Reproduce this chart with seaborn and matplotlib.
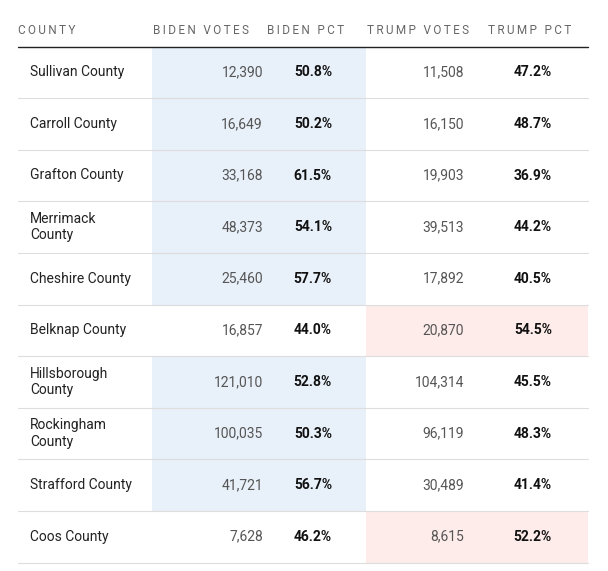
import matplotlib
matplotlib.use("Agg")
import matplotlib.pyplot as plt
import seaborn as sns

sns.set_theme(style="white")
plt.rcParams['font.family'] = ['Roboto', 'DejaVu Sans']

counties = ["Sullivan County", "Carroll County", "Grafton County", "Merrimack\nCounty",
            "Cheshire County", "Belknap County", "Hillsborough\nCounty", "Rockingham\nCounty",
            "Strafford County", "Coos County"]
biden_votes = [12390, 16649, 33168, 48373, 25460, 16857, 121010, 100035, 41721, 7628]
biden_pct = [50.8, 50.2, 61.5, 54.1, 57.7, 44.0, 52.8, 50.3, 56.7, 46.2]
trump_votes = [11508, 16150, 19903, 39513, 17892, 20870, 104314, 96119, 30489, 8615]
trump_pct = [47.2, 48.7, 36.9, 44.2, 40.5, 54.5, 45.5, 48.3, 41.4, 52.2]
headers = ["COUNTY", "BIDEN VOTES", "BIDEN PCT", "TRUMP VOTES", "TRUMP PCT"]

fig = plt.figure(figsize=(6.08, 5.71), dpi=100)
ax = fig.add_axes([0, 0, 1, 1])
ax.set_xlim(0, 608)
ax.set_ylim(571, 0)
ax.axis('off')

top, row_h = 46.5, 51.6
blue, pink = "#e8f0f9", "#fdece9"
header_x = [18, 153, 267, 367, 488]
for hx, h in zip(header_x, headers):
    ax.text(hx, 30, "\u2009".join(h), fontsize=8.5, color="#666666", va='center', ha='left')
ax.plot([18, 588], [top, top], color="#222222", lw=1)

for i, c in enumerate(counties):
    y0 = top + i * row_h
    yc = y0 + row_h / 2
    if biden_pct[i] > trump_pct[i]:
        ax.add_patch(plt.Rectangle((152, y0), 214, row_h, color=blue, lw=0))
    else:
        ax.add_patch(plt.Rectangle((366, y0), 222, row_h, color=pink, lw=0))
    ax.plot([18, 588], [y0 + row_h, y0 + row_h], color="#dddddd", lw=0.8)
    ax.text(30, yc, c, fontsize=10, color="#222222", va='center', ha='left', linespacing=1.2)
    ax.text(263, yc, f"{biden_votes[i]:,}", fontsize=10, color="#555555", va='center', ha='right')
    ax.text(332, yc, f"{biden_pct[i]:.1f}%", fontsize=10, color="#111111", weight='bold', va='center', ha='right')
    ax.text(464, yc, f"{trump_votes[i]:,}", fontsize=10, color="#555555", va='center', ha='right')
    ax.text(552, yc, f"{trump_pct[i]:.1f}%", fontsize=10, color="#111111", weight='bold', va='center', ha='right')

fig.savefig("out.png", dpi=100)
